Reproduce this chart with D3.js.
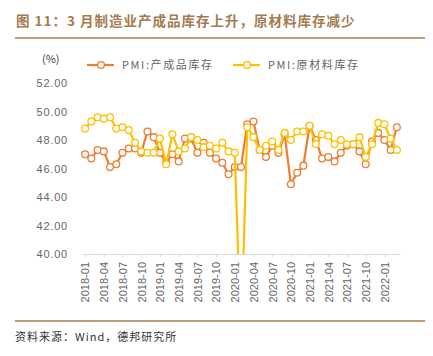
<!DOCTYPE html>
<html><head><meta charset="utf-8">
<script src="https://cdn.jsdelivr.net/npm/d3@7"></script>
<style>
body{margin:0;background:#fff;}
svg{display:block;font-family:"Noto Sans CJK SC","Noto Sans",sans-serif;}
</style></head>
<body><svg id="c" width="433" height="356"></svg>
<script>
const months = ["2018-01","2018-02","2018-03","2018-04","2018-05","2018-06","2018-07","2018-08","2018-09","2018-10","2018-11","2018-12",
"2019-01","2019-02","2019-03","2019-04","2019-05","2019-06","2019-07","2019-08","2019-09","2019-10","2019-11","2019-12",
"2020-01","2020-02","2020-03","2020-04","2020-05","2020-06","2020-07","2020-08","2020-09","2020-10","2020-11","2020-12",
"2021-01","2021-02","2021-03","2021-04","2021-05","2021-06","2021-07","2021-08","2021-09","2021-10","2021-11","2021-12",
"2022-01","2022-02","2022-03"];
const finishedGoods = [47.0,46.7,47.3,47.2,46.1,46.3,47.1,47.4,47.4,47.1,48.6,48.2,
47.1,46.4,47.0,46.5,48.1,48.1,47.1,47.8,47.1,46.7,46.4,45.6,
46.1,46.1,49.1,49.3,47.3,46.8,47.6,47.1,48.4,44.9,45.7,46.2,
49.0,48.0,46.7,46.8,46.5,47.1,47.6,47.7,47.2,46.3,47.9,48.5,
48.0,47.3,48.9];
const rawMaterials = [48.8,49.3,49.6,49.5,49.6,48.8,48.9,48.7,47.8,47.2,47.1,47.1,
48.1,46.3,48.4,47.2,47.4,48.2,48.0,47.5,47.6,47.4,47.8,47.2,
47.1,33.9,48.9,48.2,47.3,47.6,47.9,47.3,48.5,48.0,48.6,48.6,
49.0,47.7,48.4,48.3,47.7,48.0,47.7,47.7,48.2,46.8,47.7,49.2,
49.1,48.1,47.3];
const yTicks = [40,42,44,46,48,50,52];
const seriesNames = ["PMI:产成品库存","PMI:原材料库存"];
const colors = ["#ED7D31","#FFC000"];

const svg = d3.select("#c");
const brown = "#a47a4f";

svg.append("text").attr("x",16).attr("y",26).attr("fill",brown)
  .attr("font-size",13.5).attr("font-weight","bold").attr("letter-spacing",1.0)
  .text("图 11：3 月制造业产成品库存上升，原材料库存减少");
svg.append("line").attr("x1",15).attr("x2",425).attr("y1",38).attr("y2",38)
  .attr("stroke",brown).attr("stroke-width",1.5);

svg.append("text").attr("x",42).attr("y",63).attr("fill","#444").attr("font-size",11).text("(%)");

const x = d3.scaleLinear().domain([-0.5, months.length-0.5]).range([82,400]);
const y = d3.scaleLinear().domain([40,52]).range([254,83]);

// y labels
const ya = svg.append("g").attr("transform","translate(68,0)")
  .call(d3.axisLeft(y).tickValues(yTicks).tickFormat(d=>d3.format(".2f")(d)).tickSize(0).tickPadding(0));
ya.select(".domain").remove();
ya.selectAll("text").attr("fill","#666").attr("font-size",11).attr("letter-spacing",0.8)
  .attr("font-family","Liberation Sans, Arial, sans-serif");

// x axis
const labelIdx = months.map((m,i)=>i).filter(i=>i%3===0 && i<=48);
const xa = svg.append("g").attr("transform","translate(0,254)")
  .call(d3.axisBottom(x).tickValues(labelIdx).tickFormat(i=>months[i]).tickSize(3).tickSizeOuter(0));
xa.select(".domain").attr("stroke","#d9d9d9");
xa.selectAll(".tick line").attr("stroke","#d9d9d9");
xa.selectAll("text").attr("fill","#666").attr("font-size",11)
  .attr("font-family","Liberation Sans, Arial, sans-serif")
  .attr("transform","rotate(-90)").attr("text-anchor","end")
  .attr("x",-8).attr("y",0).attr("dy","0.35em");

// clip
svg.append("clipPath").attr("id","clip").append("rect")
  .attr("x",70).attr("y",70).attr("width",340).attr("height",254-70);

const data = [finishedGoods, rawMaterials];
const line = d3.line().x((d,i)=>x(i)).y(d=>y(d));
data.forEach((s,k)=>{
  const g = svg.append("g").attr("clip-path","url(#clip)");
  g.append("path").attr("d",line(s)).attr("fill","none")
    .attr("stroke",colors[k]).attr("stroke-width",2.2);
  g.selectAll("circle").data(s).join("circle")
    .attr("cx",(d,i)=>x(i)).attr("cy",d=>y(d)).attr("r",3.4)
    .attr("fill","#fff").attr("stroke",colors[k]).attr("stroke-width",1.3);
});

// legend
const legX = [87,233];
seriesNames.forEach((n,k)=>{
  const g = svg.append("g").attr("transform",`translate(${legX[k]},65)`);
  g.append("line").attr("x1",0).attr("x2",27).attr("stroke",colors[k]).attr("stroke-width",2.2);
  g.append("circle").attr("cx",14).attr("r",3.4).attr("fill","#fff").attr("stroke",colors[k]).attr("stroke-width",1.3);
  g.append("text").attr("x",35).attr("y",4).attr("fill","#666").attr("font-size",11)
    .attr("letter-spacing",1.6).text(n);
});

svg.append("line").attr("x1",15).attr("x2",425).attr("y1",321).attr("y2",321)
  .attr("stroke",brown).attr("stroke-width",1.5);
svg.append("text").attr("x",15).attr("y",341).attr("fill","#333").attr("font-size",11)
  .attr("letter-spacing",1).text("资料来源：Wind，德邦研究所");
</script></body></html>
